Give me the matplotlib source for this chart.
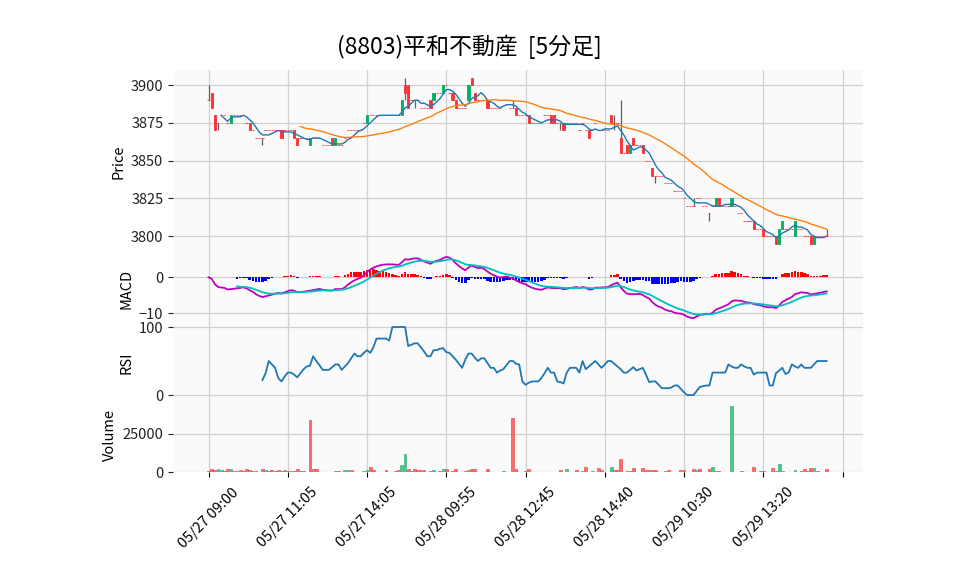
import numpy as np
import pandas as pd
import matplotlib
matplotlib.use("Agg")
import matplotlib.pyplot as plt

plt.rcParams['font.family'] = ['Noto Sans CJK JP', 'DejaVu Sans']

title = "(8803)平和不動産  [5分足]"
tick_labels = ["05/27 09:00", "05/27 11:05", "05/27 14:05", "05/28 09:55",
               "05/28 12:45", "05/28 14:40", "05/29 10:30", "05/29 13:20", ""]

opens = [
    3890, 3895, 3880, 3875, 3880, 3880, 3875, 3875, 3880, 3880,
    3880, 3880, 3875, 3875, 3870, 3865, 3865, 3865, 3870, 3870,
    3870, 3870, 3870, 3870, 3870, 3870, 3870, 3870, 3865, 3865,
    3865, 3865, 3860, 3865, 3865, 3865, 3860, 3860, 3860, 3865,
    3860, 3860, 3860, 3865, 3870, 3870, 3870, 3870, 3870, 3875,
    3875, 3880, 3880, 3880, 3880, 3880, 3880, 3880, 3880, 3880,
    3880, 3880, 3900, 3900, 3890, 3890, 3890, 3885, 3885, 3885,
    3890, 3890, 3895, 3895, 3895, 3900, 3895, 3895, 3890, 3885,
    3885, 3885, 3890, 3905, 3895, 3890, 3895, 3890, 3890, 3885,
    3885, 3885, 3885, 3890, 3890, 3885, 3885, 3885, 3880, 3880,
    3880, 3880, 3875, 3875, 3875, 3875, 3880, 3880, 3880, 3880,
    3875, 3875, 3875, 3875, 3875, 3875, 3875, 3870, 3875, 3870,
    3870, 3870, 3875, 3870, 3870, 3870, 3870, 3880, 3875, 3875,
    3865, 3855, 3860, 3855, 3865, 3860, 3860, 3860, 3850, 3850,
    3845, 3840, 3840, 3840, 3835, 3835, 3835, 3830, 3830, 3830,
    3825, 3820, 3820, 3820, 3825, 3825, 3820, 3820, 3815, 3820,
    3820, 3825, 3820, 3820, 3820, 3820, 3820, 3815, 3815, 3810,
    3810, 3810, 3810, 3805, 3805, 3805, 3800, 3800, 3800, 3800,
    3795, 3805, 3805, 3805, 3805, 3800, 3805, 3805, 3800, 3800,
    3800, 3795, 3800, 3800, 3800, 3800]

highs = [
    3900, 3895, 3880, 3875, 3880, 3880, 3875, 3880, 3880, 3880,
    3880, 3880, 3875, 3875, 3870, 3865, 3865, 3865, 3870, 3870,
    3870, 3870, 3870, 3870, 3870, 3870, 3870, 3870, 3865, 3865,
    3865, 3865, 3865, 3865, 3865, 3865, 3860, 3860, 3860, 3865,
    3865, 3860, 3860, 3865, 3870, 3870, 3870, 3870, 3870, 3875,
    3880, 3880, 3880, 3880, 3880, 3880, 3880, 3880, 3880, 3880,
    3880, 3890, 3905, 3900, 3890, 3890, 3890, 3885, 3885, 3885,
    3890, 3895, 3895, 3895, 3900, 3900, 3895, 3895, 3890, 3885,
    3885, 3885, 3900, 3905, 3895, 3890, 3895, 3890, 3890, 3885,
    3885, 3885, 3885, 3890, 3890, 3885, 3890, 3885, 3880, 3880,
    3880, 3880, 3875, 3875, 3875, 3875, 3880, 3880, 3880, 3880,
    3875, 3875, 3875, 3875, 3875, 3875, 3875, 3870, 3875, 3870,
    3870, 3870, 3875, 3870, 3870, 3870, 3870, 3880, 3880, 3875,
    3890, 3855, 3860, 3860, 3865, 3860, 3860, 3860, 3850, 3850,
    3845, 3840, 3840, 3840, 3835, 3835, 3835, 3830, 3830, 3830,
    3825, 3820, 3820, 3825, 3825, 3825, 3820, 3820, 3815, 3820,
    3825, 3825, 3820, 3820, 3820, 3825, 3820, 3815, 3815, 3810,
    3810, 3810, 3810, 3805, 3805, 3805, 3800, 3800, 3800, 3800,
    3805, 3810, 3805, 3805, 3805, 3810, 3805, 3805, 3800, 3800,
    3800, 3800, 3800, 3800, 3800, 3805]

lows = [
    3890, 3885, 3870, 3870, 3880, 3880, 3875, 3875, 3880, 3880,
    3880, 3880, 3875, 3870, 3870, 3865, 3865, 3860, 3870, 3870,
    3870, 3870, 3870, 3865, 3870, 3870, 3870, 3865, 3860, 3865,
    3865, 3865, 3860, 3865, 3865, 3865, 3860, 3860, 3860, 3860,
    3860, 3860, 3860, 3865, 3870, 3870, 3870, 3870, 3870, 3875,
    3875, 3880, 3880, 3880, 3880, 3880, 3880, 3880, 3880, 3880,
    3880, 3880, 3890, 3885, 3890, 3885, 3890, 3885, 3885, 3885,
    3885, 3890, 3895, 3895, 3895, 3900, 3895, 3890, 3885, 3885,
    3885, 3885, 3890, 3900, 3890, 3890, 3895, 3890, 3885, 3885,
    3885, 3885, 3885, 3890, 3890, 3885, 3885, 3880, 3880, 3880,
    3880, 3875, 3875, 3875, 3875, 3875, 3880, 3880, 3875, 3875,
    3875, 3870, 3870, 3875, 3875, 3875, 3875, 3870, 3875, 3870,
    3865, 3870, 3875, 3870, 3870, 3870, 3870, 3875, 3870, 3875,
    3855, 3855, 3855, 3855, 3860, 3860, 3860, 3855, 3850, 3850,
    3840, 3835, 3840, 3840, 3835, 3835, 3835, 3830, 3830, 3830,
    3825, 3820, 3820, 3820, 3825, 3825, 3820, 3820, 3810, 3820,
    3820, 3820, 3820, 3820, 3820, 3820, 3820, 3815, 3815, 3810,
    3810, 3810, 3805, 3805, 3805, 3800, 3800, 3800, 3800, 3795,
    3795, 3805, 3805, 3805, 3805, 3800, 3805, 3805, 3800, 3800,
    3795, 3795, 3800, 3800, 3800, 3800]

closes = [
    3890, 3885, 3870, 3875, 3880, 3880, 3875, 3880, 3880, 3880,
    3880, 3880, 3875, 3870, 3870, 3865, 3865, 3865, 3870, 3870,
    3870, 3870, 3870, 3865, 3870, 3870, 3870, 3865, 3860, 3865,
    3865, 3865, 3865, 3865, 3865, 3865, 3860, 3860, 3860, 3860,
    3865, 3860, 3860, 3865, 3870, 3870, 3870, 3870, 3870, 3875,
    3880, 3880, 3880, 3880, 3880, 3880, 3880, 3880, 3880, 3880,
    3880, 3890, 3895, 3885, 3890, 3890, 3890, 3885, 3885, 3885,
    3885, 3895, 3895, 3895, 3900, 3900, 3895, 3890, 3885, 3885,
    3885, 3885, 3900, 3900, 3890, 3890, 3895, 3890, 3885, 3885,
    3885, 3885, 3885, 3890, 3890, 3885, 3885, 3880, 3880, 3880,
    3880, 3875, 3875, 3875, 3875, 3875, 3880, 3880, 3875, 3875,
    3875, 3875, 3870, 3875, 3875, 3875, 3875, 3870, 3875, 3870,
    3865, 3870, 3875, 3870, 3870, 3870, 3870, 3875, 3875, 3875,
    3855, 3855, 3855, 3860, 3860, 3860, 3860, 3855, 3850, 3850,
    3840, 3840, 3840, 3840, 3835, 3835, 3835, 3830, 3830, 3830,
    3825, 3820, 3820, 3820, 3825, 3825, 3820, 3820, 3815, 3820,
    3825, 3820, 3820, 3820, 3820, 3825, 3820, 3815, 3815, 3810,
    3810, 3810, 3805, 3805, 3805, 3800, 3800, 3800, 3800, 3795,
    3805, 3810, 3805, 3805, 3805, 3810, 3805, 3805, 3800, 3800,
    3795, 3800, 3800, 3800, 3800, 3800]

volumes = [
    400, 2200, 1200, 2200, 1500, 600, 2200, 2200, 600, 400,
    1100, 450, 2200, 1500, 400, 450, 300, 2200, 1100, 450,
    1100, 450, 1100, 650, 1100, 400, 450, 400, 2200, 450,
    400, 300, 34100, 1700, 1700, 300, 300, 300, 300, 300,
    400, 900, 300, 1000, 1100, 1000, 300, 300, 300, 400,
    1500, 3000, 1100, 300, 300, 300, 1500, 300, 300, 400,
    1100, 4300, 11500, 1700, 400, 2200, 1100, 1100, 1100, 300,
    400, 1100, 300, 400, 1700, 1700, 300, 400, 1700, 300,
    300, 400, 1100, 1700, 2200, 300, 300, 300, 1700, 300,
    300, 300, 300, 450, 300, 300, 35400, 1700, 300, 300,
    400, 2200, 300, 300, 300, 300, 300, 300, 300, 300,
    300, 1500, 300, 2200, 300, 300, 1100, 300, 450, 3250,
    300, 900, 300, 2800, 1100, 300, 300, 3500, 1500, 1500,
    8700, 300, 900, 900, 2600, 300, 300, 2600, 1500, 1500,
    1500, 1500, 300, 300, 400, 1100, 300, 300, 300, 1500,
    1500, 300, 300, 2200, 1100, 2200, 300, 300, 2200, 3500,
    600, 900, 300, 300, 300, 43400, 300, 300, 900, 300,
    300, 300, 3500, 300, 900, 900, 300, 300, 2800, 400,
    5000, 900, 300, 300, 300, 1500, 300, 900, 2200, 900,
    2800, 2800, 900, 300, 300, 2200]

# RSI (first 17 bars have no value)
rsi_values = [None] * 17 + [
    22, 32, 50, 45, 40, 25, 20, 27, 33, 33,
    30, 26, 32, 38, 42, 43, 57, 50, 44, 37,
    37, 37, 41, 45, 45, 37, 42, 47, 54, 61,
    57, 57, 62, 66, 62, 70, 83, 83, 83, 83,
    80, 100, 100, 100, 100, 100, 72, 74, 76, 76,
    70, 64, 57, 57, 66, 66, 68, 69, 63, 62,
    57, 52, 46, 40, 52, 61, 61, 55, 50, 54,
    54, 47, 40, 40, 33, 36, 38, 44, 50, 50,
    46, 45, 20, 15, 18, 20, 20, 20, 25, 32,
    40, 33, 33, 20, 19, 17, 33, 40, 40, 40,
    33, 50, 38, 42, 46, 50, 45, 40, 45, 50,
    50, 46, 42, 38, 33, 33, 37, 41, 36, 38,
    40, 30, 19, 20, 20, 15, 10, 10, 10, 11,
    14, 14, 9, 4, 0, 0, 0, 6, 12, 13,
    14, 14, 33, 33, 33, 33, 33, 45, 42, 40,
    40, 45, 42, 40, 40, 30, 33, 33, 33, 33,
    14, 14, 32, 36, 40, 31, 33, 45, 42, 40,
    45, 40, 40, 40, 45, 50, 50, 50, 50]

mav_periods = [5, 30]

# ---------------- derived indicators ----------------
c = pd.Series(closes, dtype=float)
n = len(c)
x = np.arange(n)
ma_a = c.rolling(mav_periods[0]).mean()
ma_b = c.rolling(mav_periods[1]).mean()
ema12 = c.ewm(span=12, adjust=False).mean()
ema26 = c.ewm(span=26, adjust=False).mean()
macd = ema12 - ema26
signal = macd.ewm(span=9, adjust=False).mean()
hist = macd - signal
signal[:9] = np.nan
hist[:9] = np.nan
rsi = np.array([np.nan if v is None else v for v in rsi_values], float)

# ---------------- figure ----------------
fig = plt.figure(figsize=(9.58, 5.75), dpi=100)
L, R = 173, 862.5
def axpos(top, bot):
    return [L / 958, 1 - bot / 575, (R - L) / 958, (bot - top) / 575]

ax1 = fig.add_axes(axpos(70, 252.7))
ax2 = fig.add_axes(axpos(252.7, 325.8), sharex=ax1)
ax3 = fig.add_axes(axpos(325.8, 398.9), sharex=ax1)
ax4 = fig.add_axes(axpos(398.9, 472), sharex=ax1)

face = '#fafafa'
grid = '#d0d0d0'
for ax in (ax1, ax2, ax3, ax4):
    ax.set_facecolor(face)
    ax.grid(True, color=grid, linewidth=0.9)
    ax.set_axisbelow(True)
    for s in ax.spines.values():
        s.set_visible(False)
    ax.tick_params(axis='y', labelsize=10.5, length=3.5, width=0.8, colors='#222222')
    ax.tick_params(axis='x', length=3.5, width=0.8)

up_c, dn_c = '#00b060', '#fe3032'
vol_up, vol_dn = '#4dc790', '#fd6b6c'
o = np.array(opens, float); h = np.array(highs, float)
l = np.array(lows, float); cl = np.array(closes, float)

# candles
ax1.vlines(x, l, h, color='#606060', linewidth=0.9, zorder=2)
is_up = cl > o
body_col = np.where(is_up, up_c, dn_c)
ax1.bar(x, cl - o, bottom=o, width=0.7, color=body_col, edgecolor=body_col,
        linewidth=0.6, zorder=3)
ax1.plot(x, ma_a, color='#1f77b4', linewidth=1.0, zorder=4)
ax1.plot(x, ma_b, color='#ff7f0e', linewidth=1.0, zorder=4)
ax1.set_ylim(3789, 3910)
ax1.set_yticks([3800, 3825, 3850, 3875, 3900])
ax1.set_ylabel('Price', fontsize=10.5)

# MACD
hcol = np.where(hist >= 0, 'r', 'b')
ax2.bar(x, hist, width=0.8, color=hcol, zorder=2)
ax2.plot(x, macd, color='m', linewidth=1.3, zorder=3)
ax2.plot(x, signal, color='c', linewidth=1.3, zorder=3)
ax2.set_ylim(-13.4, 6.8)
ax2.set_yticks([-10, 0])
ax2.set_ylabel('MACD', fontsize=10.5)

# RSI
ax3.plot(x, rsi, color='#1f77b4', linewidth=1.3)
ax3.set_ylim(-5.7, 101.8)
ax3.set_yticks([0, 100])
ax3.set_ylabel('RSI', fontsize=10.5)

# Volume
prev = np.concatenate([[o[0]], cl[:-1]])
vcol = np.where(cl > prev, vol_up, vol_dn)
ecol = np.where(cl > prev, '#3bb07a', '#f05050')
ax4.bar(x, volumes, width=0.9, color=vcol, edgecolor=ecol, linewidth=0.5, zorder=2)
ax4.set_ylim(0, 47800)
ax4.set_yticks([0, 25000])
ax4.set_ylabel('Volume', fontsize=10.5)

ticks = np.arange(0, 201, 25)
ax4.set_xticks(ticks)
ax4.set_xticklabels(tick_labels, rotation=45, ha='center', fontsize=10.5)
ax4.tick_params(axis='x', pad=6)
ax4.set_xlim(-11.2, 206.3)
for ax in (ax1, ax2, ax3):
    ax.tick_params(axis='x', labelbottom=False, length=0)

fig.suptitle(title, fontsize=16.5, x=0.4896, y=0.94)
fig.savefig('out.png', dpi=100)
